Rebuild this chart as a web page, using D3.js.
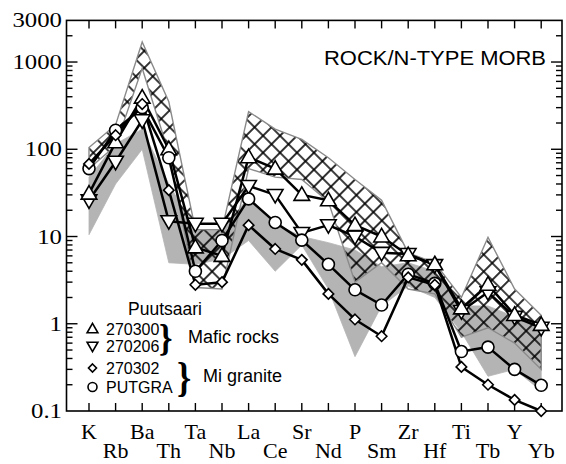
<!DOCTYPE html>
<html><head><meta charset="utf-8">
<script src="https://cdn.jsdelivr.net/npm/d3@7"></script>
<style>body{margin:0;background:#fff}</style>
</head><body>
<svg id="c" width="566" height="464"></svg>
<script>
const categories = ["K","Rb","Ba","Th","Ta","Nb","La","Ce","Sr","Nd","P","Sm","Zr","Hf","Ti","Tb","Y","Yb"];
const s270300 = [31, 120, 390, 100, 7.5, 6, 81, 60, 30, 26, 13.5, 10, 6.1, 4.8, 1.5, 2.8, 1.26, 0.97];
const s270206 = [26, 72, 215, 15, 14, 14, 38, 30, 11, 13.5, 10, 6.5, 6.3, 4.7, 1.4, 2.3, 1.2, 0.9];
const s270302 = [68, 145, 330, 34, 2.8, 3, 13.5, 7.2, 5.4, 2.2, 1.12, 0.72, 3.4, 2.8, 0.32, 0.2, 0.134, 0.1];
const sPUTGRA = [60, 165, 300, 80, 4, 9, 27, 14.5, 9.1, 4.8, 2.45, 1.64, 3.7, 2.9, 0.48, 0.54, 0.30, 0.197];
const hatchUpper = [105, 190, 1700, 350, 12, 12, 270, 170, 130, 80, 45, 26, 6.5, 5, 2.0, 9.8, 2.5, 1.25];
const hatchLower = [60, 110, 850, 90, 2.6, 2.5, 60, 48, 45, 25, 3, 5, 2.5, 2.2, 0.7, 0.9, 0.6, 0.3];
const grayUpper = [48, 115, 170, 40, 12, 12, 28, 14, 10, 8.5, 7, 4.5, 5, 4, 1.6, 1.6, 1.2, 1.0];
const grayLower = [10.5, 40, 100, 5, 4.8, 5.5, 9, 4, 8, 2.5, 0.42, 1.6, 2.7, 2, 0.8, 0.25, 0.3, 0.17];
const yTickValues = [0.1, 1, 10, 100, 1000, 3000];
const yTickLabels = ["0.1", "1", "10", "100", "1000", "3000"];

const svg = d3.select("#c");
const L = 66.5, R = 562, T = 20.4, B = 411;
const x = d3.scaleLinear().domain([0, 17]).range([89, 541.2]);
const y = d3.scaleLog().domain([0.1, 3000]).range([B, T]);

const defs = svg.append("defs");
const pat = defs.append("pattern").attr("id","hatch").attr("patternUnits","userSpaceOnUse")
  .attr("width",12).attr("height",12).attr("patternTransform","rotate(45)");
pat.append("path").attr("d","M0,6H12M6,0V12").attr("stroke","#000").attr("stroke-width",1.6);

const idx = d3.range(categories.length);
const area = (up, lo) => {
  const pts = idx.map(i => [x(i), y(up[i])]).concat(idx.slice().reverse().map(i => [x(i), y(lo[i])]));
  return "M" + pts.map(p => p.join(",")).join("L") + "Z";
};
svg.append("path").attr("d", area(grayUpper, grayLower)).attr("fill","#b4b4b4").attr("stroke","#b4b4b4").attr("stroke-width",0.8);
svg.append("path").attr("d", area(hatchUpper, hatchLower)).attr("fill","url(#hatch)").attr("stroke","#8a8a8a").attr("stroke-width",1.4);

// frame
svg.append("rect").attr("x",L).attr("y",T).attr("width",R-L).attr("height",B-T)
  .attr("fill","none").attr("stroke","#000").attr("stroke-width",1.6);

// x ticks
const gx = svg.append("g").attr("stroke","#000").attr("stroke-width",1.4);
idx.forEach(i => {
  gx.append("line").attr("x1",x(i)).attr("x2",x(i)).attr("y1",B).attr("y2",B-8);
  gx.append("line").attr("x1",x(i)).attr("x2",x(i)).attr("y1",T).attr("y2",T+8);
});
// y ticks
const minor = [];
for (let k = -1; k <= 3; k++) for (let m = 2; m <= 9; m++) { const v = m * Math.pow(10, k); if (v < 3000) minor.push(v); }
const gy = svg.append("g").attr("stroke","#000").attr("stroke-width",1.4);
minor.forEach(v => {
  gy.append("line").attr("x1",L).attr("x2",L+6).attr("y1",y(v)).attr("y2",y(v));
  gy.append("line").attr("x1",R).attr("x2",R-6).attr("y1",y(v)).attr("y2",y(v));
});
[1,10,100,1000].forEach(v => {
  gy.append("line").attr("x1",L).attr("x2",L+11).attr("y1",y(v)).attr("y2",y(v));
  gy.append("line").attr("x1",R).attr("x2",R-11).attr("y1",y(v)).attr("y2",y(v));
});
// y labels
yTickValues.forEach((v, i) => {
  svg.append("text").attr("x", 0).attr("y", 0)
    .attr("transform", `translate(62,${y(v)+7}) scale(1.18,1)`)
    .attr("text-anchor","end").attr("font-family","Liberation Serif, serif").attr("font-size",21)
    .text(yTickLabels[i]);
});
// x labels
categories.forEach((c, i) => {
  svg.append("text").attr("x", x(i)).attr("y", i % 2 === 0 ? 439 : 458)
    .attr("text-anchor","middle").attr("font-family","Liberation Serif, serif").attr("font-size",22)
    .text(c);
});

// series
const line = d3.line().x((d,i) => x(i)).y(d => y(d));
const series = [
  {name:"270206", vals:s270206, sym:"down"},
  {name:"270300", vals:s270300, sym:"up"},
  {name:"PUTGRA", vals:sPUTGRA, sym:"circle"},
  {name:"270302", vals:s270302, sym:"diamond"}
];
const symPath = (sym, s) => {
  if (sym === "up") return `M0,${-s*0.62}L${s*0.6},${s*0.42}L${-s*0.6},${s*0.42}Z`;
  if (sym === "down") return `M0,${s*0.62}L${s*0.6},${-s*0.42}L${-s*0.6},${-s*0.42}Z`;
  if (sym === "diamond") return `M0,${-s*0.5}L${s*0.5},0L0,${s*0.5}L${-s*0.5},0Z`;
  const r = s*0.5; return `M${r},0A${r},${r} 0 1,1 ${-r},0A${r},${r} 0 1,1 ${r},0Z`;
};
series.forEach(s => {
  svg.append("path").attr("d", line(s.vals)).attr("fill","none").attr("stroke","#000").attr("stroke-width",2.5).attr("stroke-linejoin","round");
});
series.forEach(s => {
  const size = s.sym === "circle" ? 12 : (s.sym === "diamond" ? 10.5 : 13);
  svg.append("g").selectAll("path").data(s.vals).join("path")
    .attr("transform",(d,i) => `translate(${x(i)},${y(d)})`)
    .attr("d", symPath(s.sym, size)).attr("fill","#fff").attr("stroke","#000").attr("stroke-width",1.6);
});

// title
svg.append("text").attr("x",546).attr("y",65).attr("text-anchor","end")
  .attr("font-family","Liberation Sans, Arial, sans-serif").attr("font-size",20)
  .attr("textLength",222).attr("lengthAdjust","spacingAndGlyphs").text("ROCK/N-TYPE MORB");

// legend
const sans = "Liberation Sans, Arial, sans-serif";
const lg = svg.append("g");
lg.append("text").attr("x",128).attr("y",315).attr("font-family",sans).attr("font-size",17.5).text("Puutsaari");
const legItems = [
  {sym:"up", label:"270300", y:329},
  {sym:"down", label:"270206", y:346},
  {sym:"diamond", label:"270302", y:368},
  {sym:"circle", label:"PUTGRA", y:387}
];
legItems.forEach(d => {
  lg.append("path").attr("transform",`translate(92.5,${d.y})`).attr("d", symPath(d.sym, d.sym==="diamond"?8:9))
    .attr("fill","#fff").attr("stroke","#000").attr("stroke-width",1.6);
  lg.append("text").attr("x",106).attr("y",d.y+6).attr("font-family",sans).attr("font-size",16).text(d.label);
});
lg.append("text").attr("transform","translate(159,351) scale(0.9,1)").attr("font-family","Liberation Serif, serif").attr("font-size",38).attr("font-weight","bold").text("}");
lg.append("text").attr("transform","translate(177,391) scale(0.9,1.05)").attr("font-family","Liberation Serif, serif").attr("font-size",40).attr("font-weight","bold").text("}");
lg.append("text").attr("x",188).attr("y",343).attr("font-family",sans).attr("font-size",18).text("Mafic rocks");
lg.append("text").attr("x",203).attr("y",382).attr("font-family",sans).attr("font-size",18).text("Mi granite");
</script>
</body></html>
